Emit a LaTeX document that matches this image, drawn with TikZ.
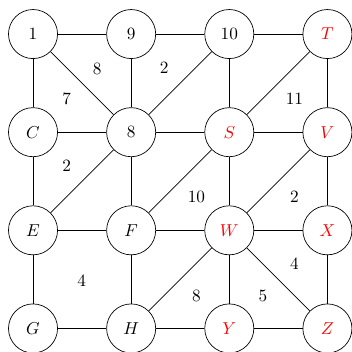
\documentclass[tikz,border=0pt]{standalone}
\begin{document}
\begin{tikzpicture}[
  vtx/.style={circle,draw,minimum size=1cm,inner sep=0pt},
  rv/.style={vtx,text=red},
  wlab/.style={inner sep=1pt}
]
\useasboundingbox (-0.673,-0.48) rectangle (6.49,6.694);
\node[vtx] (n1) at (0,6) {$1$};
\node[vtx] (n9) at (2,6) {$9$};
\node[vtx] (n10) at (4,6) {$10$};
\node[rv] (T) at (6,6) {$T$};
\node[vtx] (C) at (0,4) {$C$};
\node[vtx] (n8) at (2,4) {$8$};
\node[rv] (S) at (4,4) {$S$};
\node[rv] (V) at (6,4) {$V$};
\node[vtx] (E) at (0,2) {$E$};
\node[vtx] (F) at (2,2) {$F$};
\node[rv] (W) at (4,2) {$W$};
\node[rv] (X) at (6,2) {$X$};
\node[vtx] (G) at (0,0) {$G$};
\node[vtx] (H) at (2,0) {$H$};
\node[rv] (Y) at (4,0) {$Y$};
\node[rv] (Z) at (6,0) {$Z$};
\draw (n1) -- (n9) (n9) -- (n10) (n10) -- (T);
\draw (n1) -- (C) (n9) -- (n8) (n10) -- (S) (T) -- (V);
\draw (n1) -- (n8) (n10) -- (n8) (T) -- (S);
\draw (C) -- (n8) (n8) -- (S) (S) -- (V);
\draw (C) -- (E) (n8) -- (F) (S) -- (W) (V) -- (X);
\draw (E) -- (n8) (F) -- (S) (W) -- (V);
\draw (E) -- (F) (F) -- (W) (W) -- (X);
\draw (E) -- (G) (F) -- (H) (W) -- (Y) (X) -- (Z);
\draw (H) -- (W) (W) -- (Z);
\draw (G) -- (H) (H) -- (Y) (Y) -- (Z);
\node[wlab] (l1) at (1.306,5.286) {$8$};
\node[wlab] (l2) at (2.673,5.306) {$2$};
\node[wlab] (l3) at (0.687,4.673) {$7$};
\node[wlab] (l4) at (5.327,4.673) {$11$};
\node[wlab] (l5) at (0.687,3.31) {$2$};
\node[wlab] (l6) at (3.33,2.68) {$10$};
\node[wlab] (l7) at (5.327,2.68) {$2$};
\node[wlab] (l8) at (0.993,0.96) {$4$};
\node[wlab] (l9) at (5.327,1.306) {$4$};
\node[wlab] (l10) at (3.33,0.653) {$8$};
\node[wlab] (l11) at (4.687,0.653) {$5$};
\end{tikzpicture}
\end{document}
